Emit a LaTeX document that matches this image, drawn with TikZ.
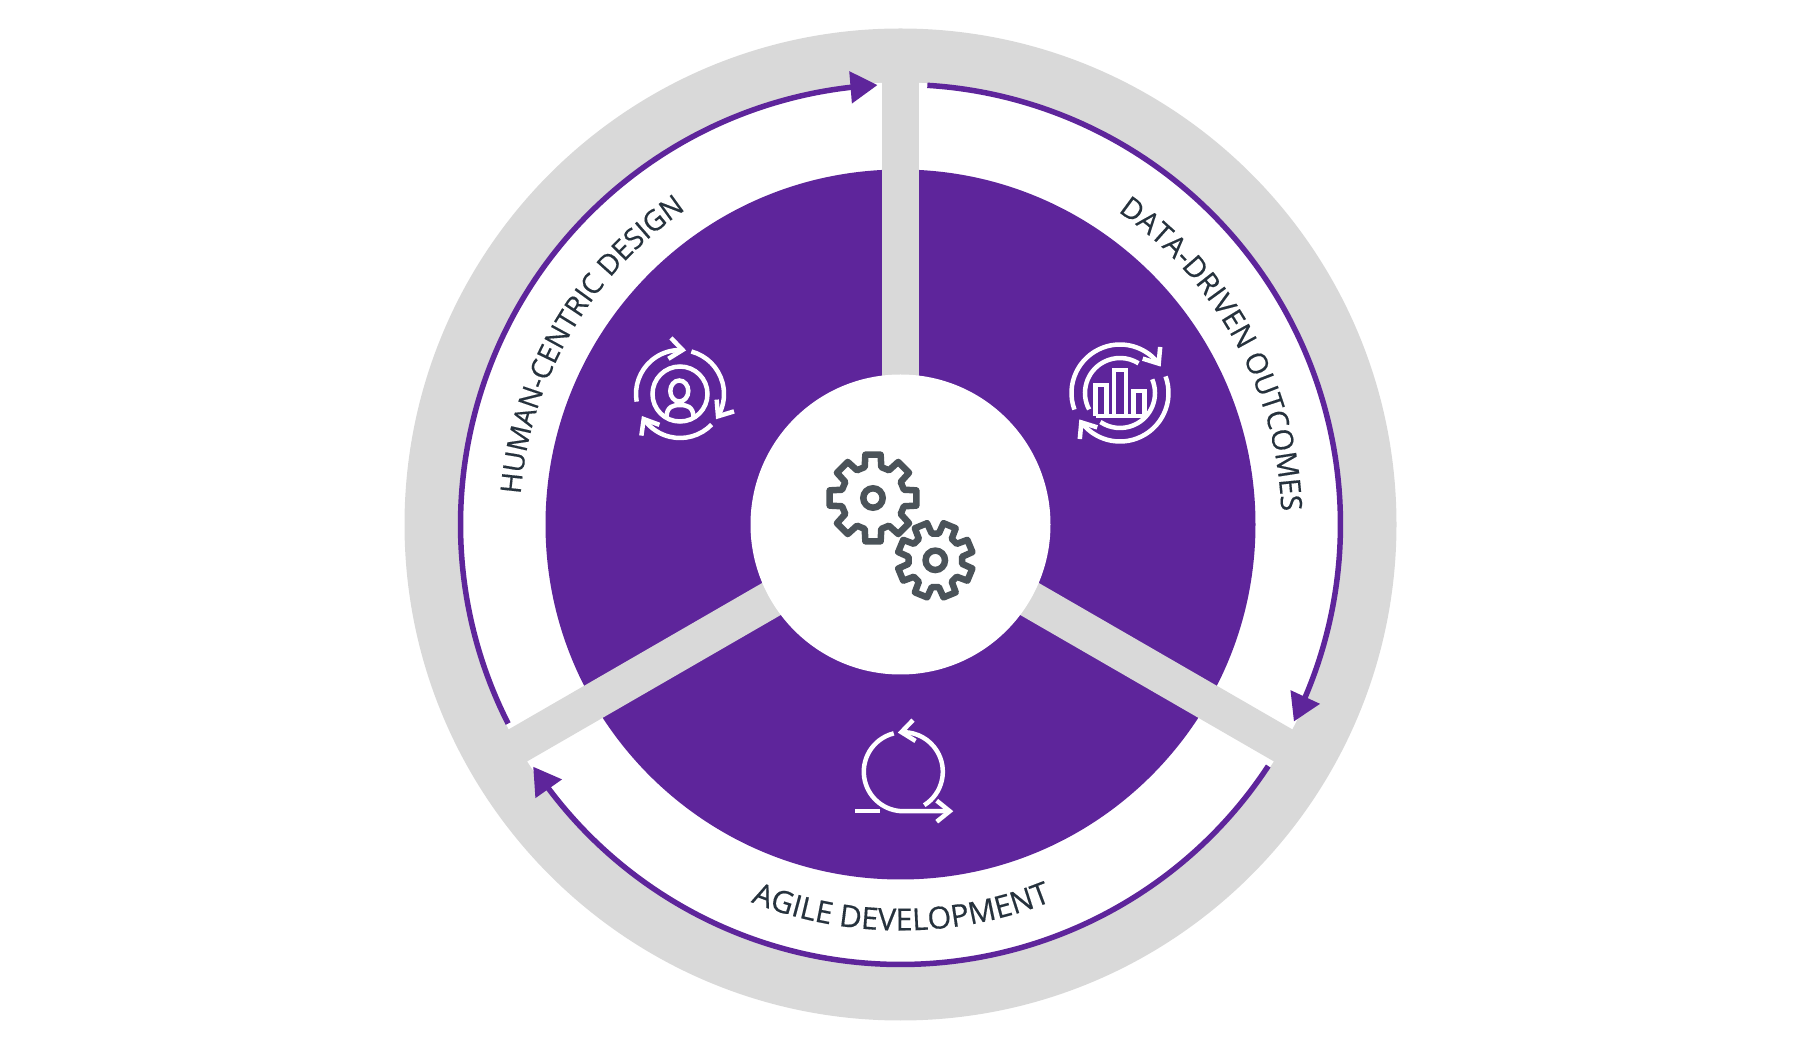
\documentclass[tikz,border=0pt]{standalone}
\usepackage{fontspec}
\usepackage{xcolor}
\usetikzlibrary{arrows.meta,bending,decorations.text}
\newfontfamily\ringfont[FakeBold=0.35]{Open Sans}
\definecolor{ringpurple}{RGB}{94,37,155}
\definecolor{ringgrey}{RGB}{217,217,217}
\definecolor{ringink}{RGB}{38,50,61}
\definecolor{gearink}{RGB}{75,83,89}
\newcommand{\ringtype}[1]{\ringfont\fontsize{#1}{10}\selectfont\color{ringink}}
\tikzset{
  ringarrow/.style={-{Triangle[length=.27cm,width=.31cm]},draw=ringpurple,line width=.055cm},
  ringtext/.style={decorate,decoration={text along path,text align=center,text={#1}}},
  iconline/.style={draw=white,line width=.045cm},
  iconarrow/.style={iconline,-{Straight Barb[length=.13cm,width=.21cm]}}
}

\begin{document}
\begin{tikzpicture}
  \useasboundingbox (0,0) rectangle (18,10.5);
  \coordinate (hub) at (9.005,5.255);
  \fill[ringgrey] (hub) circle (4.96);
  \fill[white] (hub) circle (4.42);
  \fill[ringpurple] (hub) circle (3.55);
  \foreach \a in {90,210,330}{
    \draw[ringgrey,line width=.37cm] (hub) -- ++(\a:4.7);
  }
  \fill[white] (hub) circle (1.5);
  % outer arrows
  \draw[ringarrow] (hub) ++(206.9:4.4) arc[start angle=206.9,end angle=93,radius=4.4];
  \draw[ringarrow] (hub) ++(86.5:4.4) arc[start angle=86.5,end angle=-26.6,radius=4.4];
  \draw[ringarrow] (hub) ++(-33.3:4.4) arc[start angle=-33.3,end angle=-146.6,radius=4.4];
  % labels
  \path[ringtext={|\ringtype{8.1}|HUMAN-CENTRIC DESIGN}] (hub) ++(189.9:3.81) arc[start angle=189.9,end angle=109.9,radius=3.81];
  \path[ringtext={|\ringtype{8.3}|DATA-DRIVEN OUTCOMES}] (hub) ++(68.6:3.81) arc[start angle=68.6,end angle=-11.4,radius=3.81];
  \path[ringtext={|\ringtype{8.7}|AGILE DEVELOPMENT}] (hub) ++(230.1:4.06) arc[start angle=230.1,end angle=310.1,radius=4.06];
  % gears
  \foreach \gx/\gy/\router/\rroot/\turn in {9.353/4.897/.38/.27/22.5, 8.73/5.52/.44/.32/0}{
    \begin{scope}[shift={(\gx,\gy)},rotate=\turn]
      \draw[gearink,fill=white,line width=.065cm,line join=round] (-15:\rroot)
        \foreach \i in {0,...,7}{
          -- (\i*45-15:\rroot) -- (\i*45-10:\router)
          -- (\i*45+10:\router) -- (\i*45+15:\rroot)
        } -- cycle;
      \draw[gearink,line width=.065cm] (0,0) circle (.097);
    \end{scope}
  }
  % person icon
  \begin{scope}[shift={(6.80,6.56)}]
    \draw[iconarrow] (190:.44) arc[start angle=190,end angle=82,radius=.44];
    \draw[iconarrow] (75:.44) arc[start angle=75,end angle=-35,radius=.44];
    \draw[iconarrow] (-44:.44) arc[start angle=-44,end angle=-150,radius=.44];
    \draw[iconline] (0,0) circle (.275);
    \draw[iconline] (-.007,.03) ellipse (.09 and .105);
    \draw[iconline] (-.135,-.235) .. controls (-.135,-.12) and (-.06,-.11) .. (0,-.11)
      .. controls (.06,-.11) and (.135,-.12) .. (.135,-.235);
  \end{scope}
  % chart icon
  \begin{scope}[shift={(11.20,6.57)}]
    \draw[iconarrow] (200:.485) arc[start angle=200,end angle=33,radius=.485];
    \draw[iconarrow] (20:.485) arc[start angle=20,end angle=-147,radius=.485];
    \draw[iconline] (208:.35) arc[start angle=208,end angle=58,radius=.35];
    \draw[iconline] (23:.35) arc[start angle=23,end angle=-124,radius=.35];
    \foreach \bl/\br/\bt in {-.245/-.135/.08, -.06/.06/.23, .135/.245/.02}{
      \draw[iconline] (\bl,-.23) -- (\bl,\bt) -- (\br,\bt) -- (\br,-.23);
    }
    \draw[iconline] (-.245,-.23) -- (.245,-.23);
  \end{scope}
  % agile icon
  \begin{scope}[shift={(9.033,2.783)}]
    \draw[iconarrow] (-58:.395) arc[start angle=-58,end angle=98,radius=.395];
    \draw[iconarrow] (104:.395) arc[start angle=104,end angle=270,radius=.395] -- (.5,-.395);
    \draw[iconline] (-.48,-.395) -- (-.23,-.395);
  \end{scope}
\end{tikzpicture}
\end{document}
